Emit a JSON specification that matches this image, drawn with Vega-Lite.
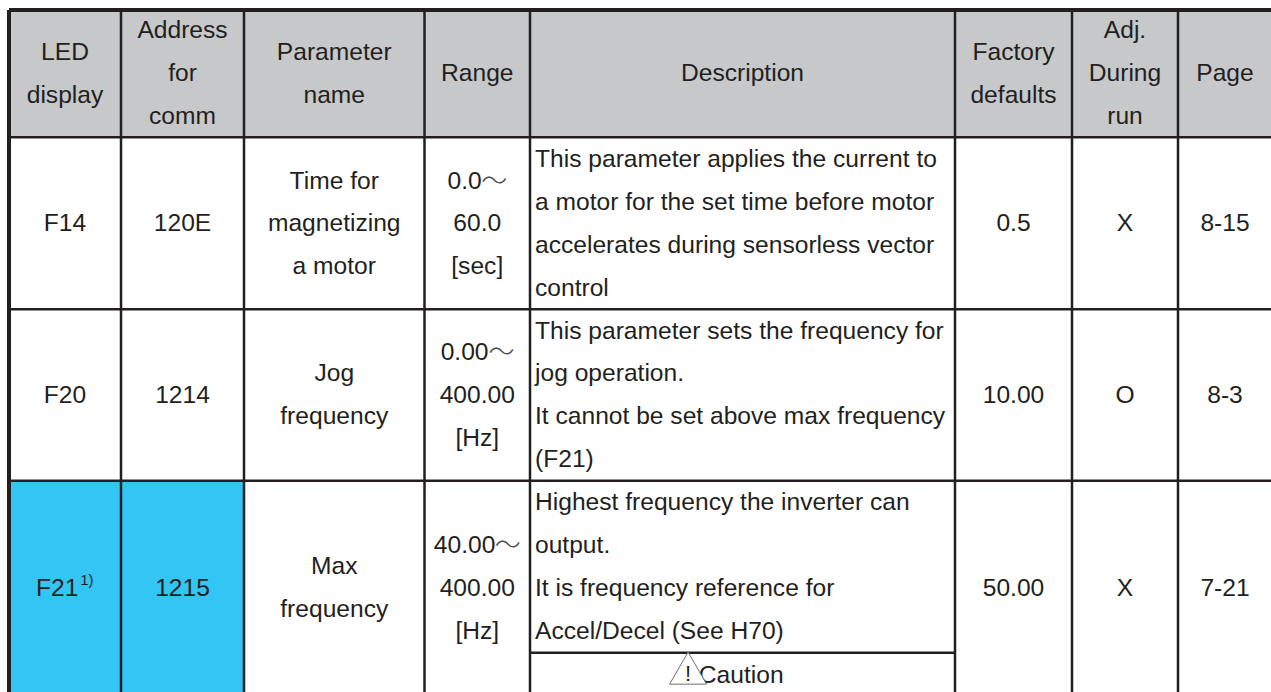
{
"$schema":"https://vega.github.io/schema/vega-lite/v6.json",
"width":1271,"height":692,"padding":0,"autosize":{"type":"none"},"background":"white",
"config":{"view":{"stroke":null}},
"datasets":{
"fills":[
{"c0":0,"c1":8,"l0":-0.5,"l1":2.47,"kind":"header"},
{"c0":0,"c1":2,"l0":10.48,"l1":15.5,"kind":"highlight"}
],
"vlines":[{"edge":1},{"edge":2},{"edge":3},{"edge":4},{"edge":5},{"edge":6},{"edge":7}],
"hlines":[
{"c0":0,"c1":8,"line":2.47},{"c0":0,"c1":8,"line":6.48},{"c0":0,"c1":8,"line":10.48},{"c0":4,"c1":5,"line":14.49}
],
"centered":[
{"col":0.5,"line":0.5,"text":"LED"},{"col":0.5,"line":1.5,"text":"display"},
{"col":1.5,"line":0,"text":"Address"},{"col":1.5,"line":1,"text":"for"},{"col":1.5,"line":2,"text":"comm"},
{"col":2.5,"line":0.5,"text":"Parameter"},{"col":2.5,"line":1.5,"text":"name"},
{"col":3.5,"line":1,"text":"Range"},{"col":4.5,"line":1,"text":"Description"},
{"col":5.5,"line":0.5,"text":"Factory"},{"col":5.5,"line":1.5,"text":"defaults"},
{"col":6.5,"line":0,"text":"Adj."},{"col":6.5,"line":1,"text":"During"},{"col":6.5,"line":2,"text":"run"},
{"col":7.5,"line":1,"text":"Page"},
{"col":0.5,"line":4.5,"text":"F14"},{"col":1.5,"line":4.5,"text":"120E"},
{"col":2.5,"line":3.5,"text":"Time for"},{"col":2.5,"line":4.5,"text":"magnetizing"},{"col":2.5,"line":5.5,"text":"a motor"},
{"col":3.38,"line":3.5,"text":"0.0"},{"col":3.5,"line":4.5,"text":"60.0"},{"col":3.5,"line":5.5,"text":"[sec]"},
{"col":5.5,"line":4.5,"text":"0.5"},{"col":6.5,"line":4.5,"text":"X"},{"col":7.5,"line":4.5,"text":"8-15"},
{"col":0.5,"line":8.5,"text":"F20"},{"col":1.5,"line":8.5,"text":"1214"},
{"col":2.5,"line":8,"text":"Jog"},{"col":2.5,"line":9,"text":"frequency"},
{"col":3.38,"line":7.5,"text":"0.00"},{"col":3.5,"line":8.5,"text":"400.00"},{"col":3.5,"line":9.5,"text":"[Hz]"},
{"col":5.5,"line":8.5,"text":"10.00"},{"col":6.5,"line":8.5,"text":"O"},{"col":7.5,"line":8.5,"text":"8-3"},
{"col":0.43,"line":13,"text":"F21"},{"col":1.5,"line":13,"text":"1215"},
{"col":2.5,"line":12.5,"text":"Max"},{"col":2.5,"line":13.5,"text":"frequency"},
{"col":3.38,"line":12,"text":"40.00"},{"col":3.5,"line":13,"text":"400.00"},{"col":3.5,"line":14,"text":"[Hz]"},
{"col":5.5,"line":13,"text":"50.00"},{"col":6.5,"line":13,"text":"X"},{"col":7.5,"line":13,"text":"7-21"},
{"col":4.497,"line":15.03,"text":"Caution"}
],
"tildes":[
{"col":3.66,"line":3.5,"text":"～"},{"col":3.73,"line":7.5,"text":"～"},{"col":3.79,"line":12,"text":"～"}
],
"description":[
{"col":4,"line":3,"text":"This parameter applies the current to"},
{"col":4,"line":4,"text":"a motor for the set time before motor"},
{"col":4,"line":5,"text":"accelerates during sensorless vector"},
{"col":4,"line":6,"text":"control"},
{"col":4,"line":7,"text":"This parameter sets the frequency for"},
{"col":4,"line":8,"text":"jog operation."},
{"col":4,"line":9,"text":"It cannot be set above max frequency"},
{"col":4,"line":10,"text":"(F21)"},
{"col":4,"line":11,"text":"Highest frequency the inverter can"},
{"col":4,"line":12,"text":"output."},
{"col":4,"line":13,"text":"It is frequency reference for"},
{"col":4,"line":14,"text":"Accel/Decel (See H70)"}
],
"footnote":[{"col":0.695,"line":12.8,"text":"1)"}],
"warningShape":[{"col":4.372,"line":14.85}],
"warningMark":[{"col":4.372,"line":14.98,"text":"!"}]
},
"layer":[
{"data":{"name":"fills"},"mark":{"type":"rect"},
 "encoding":{
  "x":{"field":"c0","type":"quantitative","axis":null,"scale":{"nice":false,"zero":false,"domain":[0,1,2,3,4,5,6,7,8],"range":[9,121,244,424.5,530,955,1072,1178,1272]}},
  "x2":{"field":"c1"},
  "y":{"field":"l0","type":"quantitative","axis":null,"scale":{"nice":false,"zero":false,"domain":[-0.5,15.5],"range":[10,696]}},
  "y2":{"field":"l1"},
  "color":{"field":"kind","type":"nominal","legend":null,"scale":{"domain":["header","highlight"],"range":["#c6c8ca","#33c5f4"]}}
 }},
{"data":{"name":"vlines"},"mark":{"type":"rule","color":"#231f20","strokeWidth":2.5},
 "encoding":{"x":{"field":"edge","type":"quantitative"},"y":{"datum":-0.5,"type":"quantitative"},"y2":{"datum":15.5}}},
{"data":{"name":"hlines"},"mark":{"type":"rule","color":"#231f20","strokeWidth":2.5},
 "encoding":{"x":{"field":"c0","type":"quantitative"},"x2":{"field":"c1"},"y":{"field":"line","type":"quantitative"}}},
{"data":{"values":[{"edge":0}]},"mark":{"type":"rule","color":"#231f20","strokeWidth":4},
 "encoding":{"x":{"field":"edge","type":"quantitative"},"y":{"datum":-0.5,"type":"quantitative"},"y2":{"datum":15.5}}},
{"data":{"values":[{"line":-0.5}]},"mark":{"type":"rule","color":"#231f20","strokeWidth":4},
 "encoding":{"x":{"datum":0,"type":"quantitative"},"x2":{"datum":8},"y":{"field":"line","type":"quantitative"}}},
{"data":{"name":"centered"},"mark":{"type":"text","font":"Liberation Sans","fontSize":24.6,"color":"#231f20","align":"center","baseline":"middle"},
 "encoding":{"x":{"field":"col","type":"quantitative"},"y":{"field":"line","type":"quantitative"},"text":{"field":"text"}}},
{"data":{"name":"tildes"},"mark":{"type":"text","font":"Noto Sans CJK JP","fontWeight":300,"fontSize":26,"color":"#4d4d4f","align":"center","baseline":"middle"},
 "encoding":{"x":{"field":"col","type":"quantitative"},"y":{"field":"line","type":"quantitative"},"text":{"field":"text"}}},
{"data":{"name":"description"},"mark":{"type":"text","font":"Liberation Sans","fontSize":24.6,"color":"#231f20","align":"left","baseline":"middle","dx":5},
 "encoding":{"x":{"field":"col","type":"quantitative"},"y":{"field":"line","type":"quantitative"},"text":{"field":"text"}}},
{"data":{"name":"footnote"},"mark":{"type":"text","font":"Liberation Sans","fontSize":15,"color":"#231f20","align":"center","baseline":"middle"},
 "encoding":{"x":{"field":"col","type":"quantitative"},"y":{"field":"line","type":"quantitative"},"text":{"field":"text"}}},
{"data":{"name":"warningShape"},"mark":{"type":"point","shape":"triangle-up","size":1369,"filled":true,"fill":"white","stroke":"#6d6e71","strokeWidth":1,"opacity":1},
 "encoding":{"x":{"field":"col","type":"quantitative"},"y":{"field":"line","type":"quantitative"}}},
{"data":{"name":"warningMark"},"mark":{"type":"text","font":"Liberation Sans","fontSize":22,"color":"#231f20","align":"center","baseline":"middle"},
 "encoding":{"x":{"field":"col","type":"quantitative"},"y":{"field":"line","type":"quantitative"},"text":{"field":"text"}}}
]
}
